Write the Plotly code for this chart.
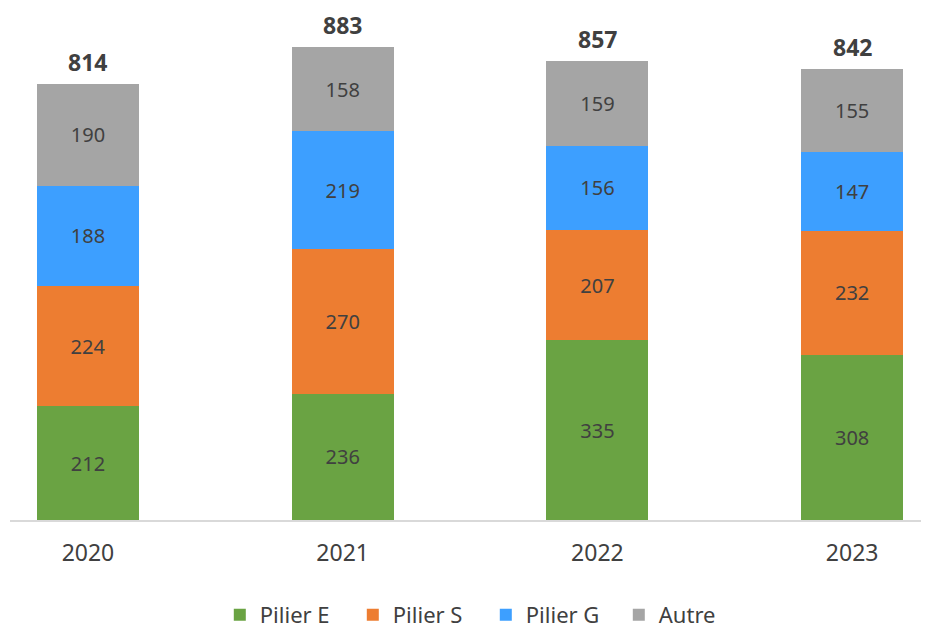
import plotly.graph_objects as go

years = ["2020", "2021", "2022", "2023"]
pilier_e = [212, 236, 335, 308]
pilier_s = [224, 270, 207, 232]
pilier_g = [188, 219, 156, 147]
autre = [190, 158, 159, 155]
totals = [814, 883, 857, 842]

series = [
    ("Pilier E", pilier_e, "#6AA343"),
    ("Pilier S", pilier_s, "#ED7D31"),
    ("Pilier G", pilier_g, "#3D9FFF"),
    ("Autre", autre, "#A5A5A5"),
]

FONT = "Noto Sans"
TXT = "#404040"

fig = go.Figure()
for name, vals, col in series:
    fig.add_trace(go.Bar(
        x=years, y=vals, name=name, marker=dict(color=col, line=dict(width=0)),
        text=[str(v) for v in vals], textposition="inside", insidetextanchor="middle",
        textfont=dict(family=FONT, size=20, color=TXT), width=0.4,
        hoverinfo="skip",
    ))

for i, t in enumerate(totals):
    fig.add_annotation(x=i, y=t, xref="x", yref="y", text="<b>%d</b>" % t, showarrow=False,
                       yanchor="bottom", yshift=5, borderpad=0,
                       font=dict(family=FONT, size=23, color=TXT))

fig.update_layout(
    barmode="stack",
    width=921, height=622,
    margin=dict(l=2, r=4, t=12, b=110, autoexpand=False),
    paper_bgcolor="white", plot_bgcolor="white",
    font=dict(family=FONT, color=TXT),
    showlegend=True,
    legend=dict(orientation="h", x=0.52, xanchor="center", y=-0.19, yanchor="middle",
                traceorder="normal", entrywidth=88, entrywidthmode="pixels",
                font=dict(family=FONT, size=22, color=TXT)),
)
fig.update_xaxes(type="category", range=[-0.306, 3.286], showline=True, linecolor="#D9D9D9",
                 linewidth=1.5, ticks="", ticklabelstandoff=12,
                 tickfont=dict(family=FONT, size=23, color=TXT), showgrid=False)
fig.update_yaxes(range=[0, 933], visible=False, showgrid=False)

fig.write_html("out.html")
